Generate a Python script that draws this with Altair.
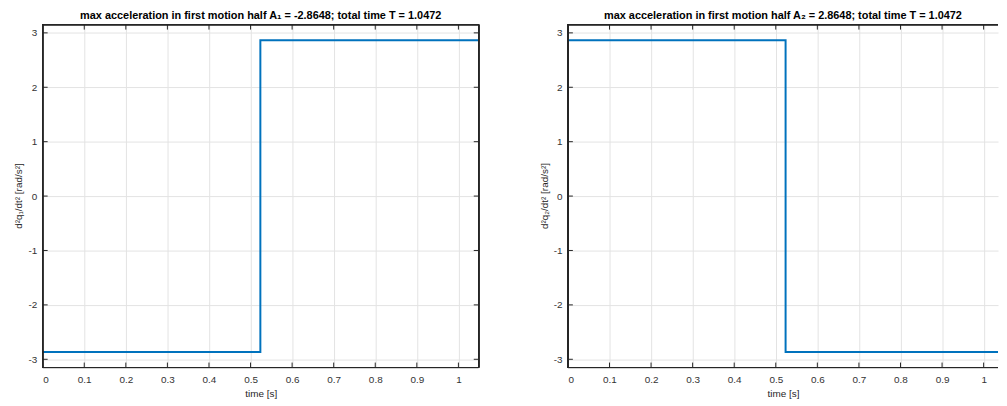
import altair as alt
import pandas as pd

T = 1.0472
time = [0.0, 0.5236, 0.5236, 1.0472]
acc_q1 = [-2.8648, -2.8648, 2.8648, 2.8648]
acc_q2 = [2.8648, 2.8648, -2.8648, -2.8648]
x_ticks = [0, 0.1, 0.2, 0.3, 0.4, 0.5, 0.6, 0.7, 0.8, 0.9, 1]
y_ticks = [-3, -2, -1, 0, 1, 2, 3]
y_domain = [-3.1513, 3.1513]

titles = [
    "max acceleration in first motion half A\u2081 = -2.8648; total time T = 1.0472",
    "max acceleration in first motion half A\u2082 = 2.8648; total time T = 1.0472",
]
y_titles = ["d\u00b2q\u2081/dt\u00b2 [rad/s\u00b2]", "d\u00b2q\u2082/dt\u00b2 [rad/s\u00b2]"]

H = 346
PX_PER_UNIT = 419.5
FONT = "Liberation Sans"
AX = "#262626"

xt = pd.DataFrame({"t": x_ticks})
yt = pd.DataFrame({"a": y_ticks})


def panel(acc, title, ytitle, width, right_edge):
    xmax = width / PX_PER_UNIT
    df = pd.DataFrame({"t": time, "a": acc, "i": list(range(len(time)))})
    xs = alt.Scale(domain=[0, xmax], nice=False, zero=False)
    ys = alt.Scale(domain=y_domain, nice=False, zero=False)
    xax = alt.Axis(values=x_ticks, grid=True, domain=False, ticks=False,
                   labelExpr="'' + datum.value", labelPadding=7, titlePadding=4)
    yax = alt.Axis(values=y_ticks, grid=True, domain=False, ticks=False,
                   labelExpr="'' + datum.value", labelPadding=6, title=None)
    X = lambda: alt.X("t:Q", scale=xs, title="time [s]", axis=xax)
    Y = lambda: alt.Y("a:Q", scale=ys, axis=yax)
    line = alt.Chart(df).mark_line(color="#0072BD", strokeWidth=2, clip=True).encode(
        x=X(), y=Y(), order="i:Q",
    )
    layers = [line]
    layers.append(alt.Chart(xt).mark_rule(color=AX).encode(x=X(), y=alt.value(0), y2=alt.value(5)))
    layers.append(alt.Chart(xt).mark_rule(color=AX).encode(x=X(), y=alt.value(H), y2=alt.value(H - 5)))
    layers.append(alt.Chart(yt).mark_rule(color=AX).encode(y=Y(), x=alt.value(0), x2=alt.value(5)))
    # box edges
    layers.append(alt.Chart(xt).mark_rule(color=AX).encode(
        x=alt.value(0), x2=alt.value(width), y=alt.value(0)))
    layers.append(alt.Chart(xt).mark_rule(color=AX).encode(
        x=alt.value(0), x2=alt.value(width), y=alt.value(H)))
    layers.append(alt.Chart(xt).mark_rule(color=AX).encode(
        x=alt.value(0), y=alt.value(0), y2=alt.value(H)))
    if right_edge:
        layers.append(alt.Chart(yt).mark_rule(color=AX).encode(
            y=Y(), x=alt.value(width - 5), x2=alt.value(width)))
        layers.append(alt.Chart(xt).mark_rule(color=AX).encode(
            x=alt.value(width), y=alt.value(0), y2=alt.value(H)))
    # y-axis title
    layers.append(alt.Chart(pd.DataFrame({"s": [ytitle]})).mark_text(
        angle=270, align="center", baseline="middle", font=FONT, fontSize=10,
        color="#262626").encode(text="s:N", x=alt.value(-23.5), y=alt.value(H / 2)))
    # invisible left boundary so that the plot origin sits 34.5px in
    layers.append(alt.Chart(pd.DataFrame({"s": [0]})).mark_rule(
        strokeOpacity=0, strokeWidth=0).encode(
        x=alt.value(-34.5), y=alt.value(0), y2=alt.value(H)))
    return alt.layer(*layers).properties(
        width=width, height=H,
        title=alt.TitleParams(title, fontSize=11, fontWeight="bold", font=FONT,
                              color="#000000", offset=3, anchor="middle"),
    )


chart = alt.hconcat(
    panel(acc_q1, titles[0], y_titles[0], 440, True),
    panel(acc_q2, titles[1], y_titles[1], 434, False),
    spacing=90, bounds="flush",
).properties(padding=0).configure_view(
    stroke="transparent"
).configure_axis(
    labelFont=FONT, titleFont=FONT, labelFontSize=10, titleFontSize=10,
    labelColor="#333333", titleColor="#262626", gridColor="#e3e3e3",
    titleFontWeight="normal",
)

chart.save("out.html", embed_options={"renderer": "svg", "actions": False})
